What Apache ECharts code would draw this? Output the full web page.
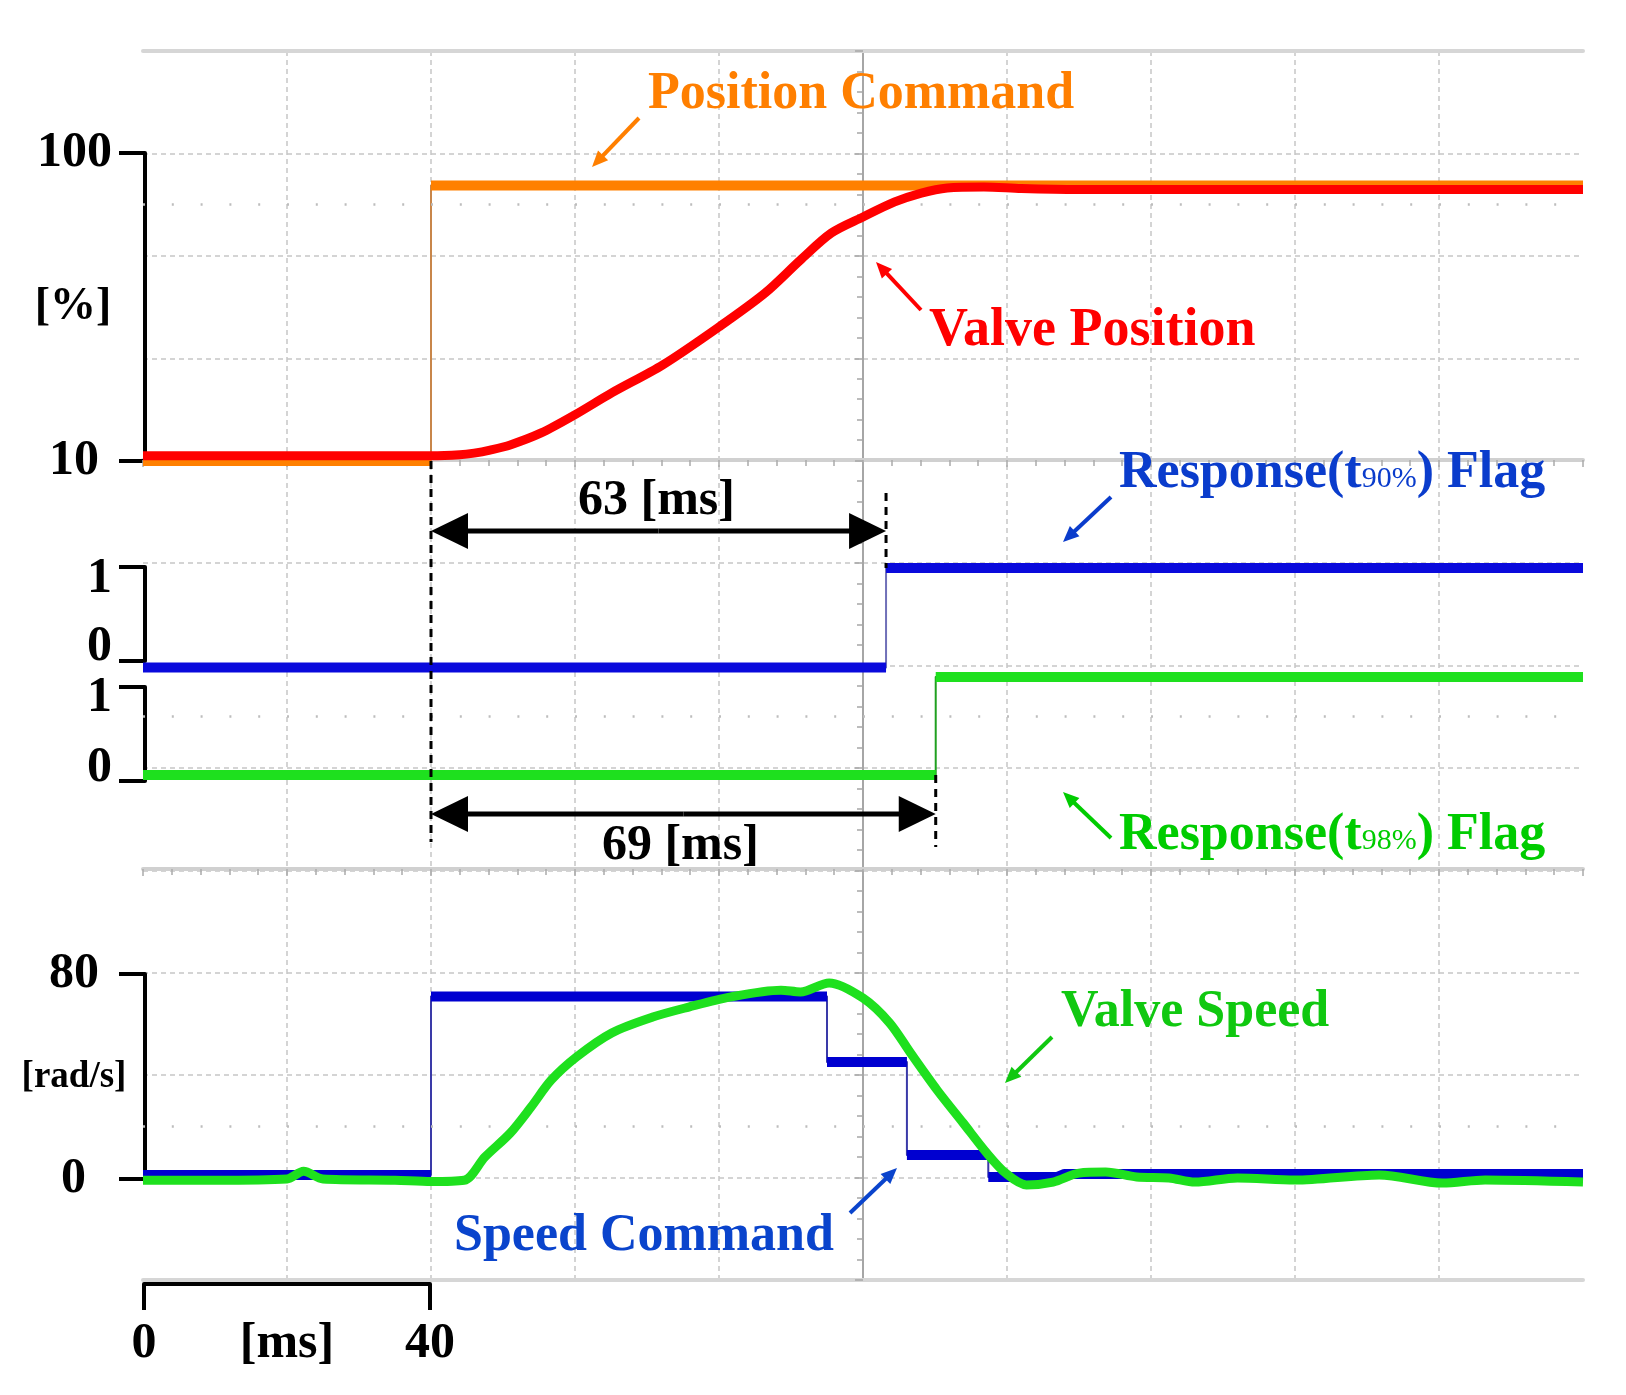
<!DOCTYPE html>
<html><head><meta charset="utf-8">
<script src="https://cdn.jsdelivr.net/npm/echarts@6/dist/echarts.min.js"></script>
<style>html,body{margin:0;padding:0;background:#fff}#main{width:1626px;height:1395px}</style>
</head><body><div id="main"></div>
<script>
// ---------------- data (time in ms) ----------------
const posCmdT = [0, 40, 40, 200];
const posCmdV = [10, 10, 90.5, 90.5];

const valvePosT = [0, 20, 40, 44, 46, 48.2, 51, 55.3, 59.9, 65.1, 72.2, 80, 86.4, 91.3, 95.6, 100, 104.4, 108.1, 111.7, 116.8, 122, 130, 160, 200];
const valvePosV = [11.5, 11.5, 11.5, 11.8, 12.3, 13.2, 14.7, 18.2, 23.4, 29.9, 38.1, 49.2, 59.1, 68.7, 76.6, 81.3, 85.7, 88.3, 89.8, 90.1, 89.6, 89.3, 89.3, 89.3];

const flag90T = [0, 103.2, 103.2, 200];
const flag90V = [-0.07, -0.07, 0.99, 0.99];

const flag98T = [0, 110.1, 110.1, 200];
const flag98V = [0.064, 0.064, 1.106, 1.106];

const spdCmdT = [0, 40, 40, 95, 95, 106.1, 106.1, 117.4, 117.4, 127, 128, 200];
const spdCmdV = [1.6, 1.6, 71.2, 71.2, 45.7, 45.7, 9.4, 9.4, 0.8, 0.8, 2.0, 2.0];

const valveSpdT = [0, 10, 20, 22.3, 25, 35, 40, 44.6, 47.5, 51, 53.9, 56.7, 60.2, 65.1, 70.8, 75.8, 81.5, 88.6, 91.3, 95.3, 100, 103.7, 106.6, 110.3, 113.9, 117.2, 119.8, 122.7, 126.4, 130, 133.7, 138, 142.5, 146.1, 152, 160, 171.7, 180.5, 186.4, 200];
const valveSpdV = [-0.5, -0.5, 0, 3, 0, -0.5, -1, -0.5, 8.6, 17.9, 28.1, 38.6, 47.6, 57, 63.2, 67.1, 71, 73.7, 73, 76.5, 70.6, 60.9, 49.2, 34.7, 21.9, 10.1, 2.3, -2.3, -1.2, 2.3, 2.7, 0.8, 0.4, -1.2, 0.4, -0.4, 1.6, -1.6, -0.4, -1.2];

const posTicks = [10, 100];
const flagTicks = [0, 1];
const spdTicks = [0, 80];
const scaleTicks = [0, 40];
const tMeasure = [40, 63, 69]; // start of step and annotated response times

// ---------------- helpers ----------------
const FONT = '"Liberation Serif","Times New Roman",serif';
const pairs = (T, V) => T.map((t, i) => [t, V[i]]);
function thick(T, V) {
  const out = [];
  for (let i = 0; i < T.length; i++) {
    if (i > 0 && T[i] === T[i - 1]) out.push([T[i], '-']);
    out.push([T[i], V[i]]);
  }
  return out;
}
function ser(name, xi, yi, data, color, width, z, clip, smooth) {
  return {
    name, type: 'line', xAxisIndex: xi, yAxisIndex: yi, data,
    showSymbol: false, symbol: 'none', silent: true, z,
    connectNulls: false, clip: clip !== false, smooth: smooth || false,
    lineStyle: { color, width, join: 'round' }, animation: false
  };
}
const hidX = g => ({ gridIndex: g, type: 'value', min: 0, max: 200, show: false, axisLine: { onZero: false } });
function yLab(g, min, max, ticks, fmt, rich, extra) {
  return Object.assign({
    gridIndex: g, type: 'value', min, max, offset: -2,
    axisLine: { show: true, onZero: false, lineStyle: { color: '#000', width: 4 } },
    axisTick: { show: true, length: 26, customValues: ticks, lineStyle: { color: '#000', width: 4 } },
    axisLabel: { show: true, customValues: ticks, margin: 33, color: '#000', fontFamily: FONT, fontSize: 50, fontWeight: 'bold', formatter: fmt, rich },
    splitLine: { show: false }
  }, extra || {});
}
const base = { fontFamily: FONT, fontSize: 50, fontWeight: 'bold', color: '#000' };
const R = (o) => Object.assign({}, base, o);
const tickLine = (offset) => ({
  gridIndex: 0, type: 'value', min: 0, max: 200, interval: 20, position: 'top', offset,
  axisLine: { show: true, onZero: false, lineStyle: { color: '#d0d0d0', width: 4 } },
  axisTick: { show: true, inside: true, length: 7, lineStyle: { color: '#aaa', width: 1.5 } },
  minorTick: { show: true, splitNumber: 5, length: 6, lineStyle: { color: '#aaa', width: 1.5 } },
  axisLabel: { show: false }, splitLine: { show: false }
});

const option = {
  animation: false,
  backgroundColor: '#fff',
  grid: [
    { left: 143, top: 51, width: 1440, height: 1229 },
    { left: 143, top: 153, width: 1440, height: 308 },
    { left: 143, top: 567, width: 1440, height: 94 },
    { left: 143, top: 687, width: 1440, height: 94 },
    { left: 143, top: 974, width: 1440, height: 205 },
    { left: 144, top: 1283, width: 286, height: 1 }
  ],
  xAxis: [
    { gridIndex: 0, type: 'value', min: 0, max: 200, interval: 20, position: 'top',
      axisLine: { show: true, onZero: false, lineStyle: { color: '#d6d6d6', width: 4 } },
      axisTick: { show: false }, axisLabel: { show: false },
      splitLine: { show: true, showMinLine: false, showMaxLine: false, lineStyle: { color: '#c6c6c6', width: 1.5, type: [5, 4] } } },
    { gridIndex: 0, type: 'value', min: 0, max: 200, interval: 20, position: 'bottom',
      axisLine: { show: true, onZero: false, lineStyle: { color: '#d6d6d6', width: 4 } },
      axisTick: { show: false }, axisLabel: { show: false }, splitLine: { show: false } },
    tickLine(-409),
    tickLine(-818),
    hidX(1), hidX(2), hidX(3), hidX(4),
    { gridIndex: 5, type: 'value', min: 0, max: 40, position: 'bottom',
      axisLine: { show: true, onZero: false, lineStyle: { color: '#000', width: 4 } },
      axisTick: { show: true, length: 26, customValues: scaleTicks, lineStyle: { color: '#000', width: 4 } },
      axisLabel: { show: true, customValues: scaleTicks, margin: 35, color: '#000', fontFamily: FONT, fontSize: 50, fontWeight: 'bold' },
      splitLine: { show: false } }
  ],
  yAxis: [
    { gridIndex: 0, type: 'value', min: 0, max: 12, interval: 1,
      axisLine: { show: false, onZero: false }, axisTick: { show: false }, axisLabel: { show: false },
      splitLine: { show: true, lineStyle: { color: '#c6c6c6', width: 1.5, type: [5, 4] } } },
    { gridIndex: 0, type: 'value', min: 0, max: 12, interval: 1, position: 'left', offset: -720,
      axisLine: { show: true, onZero: false, lineStyle: { color: '#a6a6a6', width: 2 } },
      axisTick: { show: true, length: 8, lineStyle: { color: '#a6a6a6', width: 1.5 } },
      minorTick: { show: true, splitNumber: 5, length: 6, lineStyle: { color: '#a6a6a6', width: 1.5 } },
      axisLabel: { show: false }, splitLine: { show: false } },
    yLab(1, 10, 100, posTicks, v => v === 100 ? '{a|100}' : '{b|10}',
      { a: R({}), b: R({ padding: [0, 13, 0, 0] }) }),
    yLab(2, 0, 1, flagTicks, v => v === 1 ? '{a|1}' : '{b|0}',
      { a: R({ padding: [24, 0, 0, 0] }), b: R({ padding: [0, 0, 28, 0] }) }, { interval: 1 }),
    yLab(3, 0, 1, flagTicks, v => v === 1 ? '{a|1}' : '{b|0}',
      { a: R({ padding: [22, 0, 0, 0] }), b: R({ padding: [0, 0, 26, 0] }) }, { interval: 1 }),
    yLab(4, 0, 80, spdTicks, v => v === 80 ? '{a|80}' : '{b|0}',
      { a: R({ padding: [0, 13, 0, 0] }), b: R({ padding: [0, 26, 0, 0] }) }, { interval: 80 }),
    { gridIndex: 5, type: 'value', min: 0, max: 1, show: false }
  ],
  series: [
    { type: 'line', xAxisIndex: 0, yAxisIndex: 0, data: [], silent: true, symbol: 'none',
      markLine: { symbol: ['none', 'none'], silent: true, label: { show: false }, animation: false,
        lineStyle: { color: '#bdbdbd', width: 2.5, type: [2, 26.8] },
        data: [{ yAxis: 10.5 }, { yAxis: 5.5 }, { yAxis: 1.5 }] } },
    ser('Position Command edge', 4, 2, pairs(posCmdT, posCmdV), '#c8864a', 2, 3),
    ser('Position Command', 4, 2, thick(posCmdT, posCmdV), '#FF8000', 10, 4),
    ser('Valve Position', 4, 2, pairs(valvePosT, valvePosV), '#FF0000', 9, 5, true, 0.3),
    ser('Response t90 edge', 5, 3, pairs(flag90T, flag90V), '#7070b8', 2, 3, false),
    ser('Response t90 Flag', 5, 3, thick(flag90T, flag90V), '#0a0adc', 10, 4, false),
    ser('Response t98 edge', 6, 4, pairs(flag98T, flag98V), '#20a020', 2, 3, false),
    ser('Response t98 Flag', 6, 4, thick(flag98T, flag98V), '#1ee01e', 10, 4, false),
    ser('Speed Command edge', 7, 5, pairs(spdCmdT, spdCmdV), '#3a3aa8', 2, 3, false),
    ser('Speed Command', 7, 5, thick(spdCmdT, spdCmdV), '#0000d0', 10, 4, false),
    ser('Valve Speed', 7, 5, pairs(valveSpdT, valveSpdV), '#1ee01e', 9, 5, false, 0.3)
  ]
};

const chart = echarts.init(document.getElementById('main'), null, { renderer: 'canvas' });
chart.setOption(option);

// ---------------- annotations ----------------
const px = t => chart.convertToPixel({ xAxisIndex: 0 }, t);
function arrowEls(x1, y1, x2, y2, color, w, hl, hw) {
  const dx = x2 - x1, dy = y2 - y1, L = Math.hypot(dx, dy), ux = dx / L, uy = dy / L;
  const bx = x2 - ux * hl, by = y2 - uy * hl, nx = -uy, ny = ux;
  return [
    { type: 'line', z: 100, silent: true, shape: { x1, y1, x2: bx + ux * 2, y2: by + uy * 2 }, style: { stroke: color, lineWidth: w } },
    { type: 'polygon', z: 100, silent: true, shape: { points: [[x2, y2], [bx + nx * hw, by + ny * hw], [bx - nx * hw, by - ny * hw]] }, style: { fill: color } }
  ];
}
function txt(text, x, y, fill, font, align) {
  return { type: 'text', z: 100, silent: true, x, y,
    style: { text, fill, font: font || ('bold 52px ' + FONT), align: align || 'left', verticalAlign: 'middle' } };
}
function richResp(sub, x, y, fill) {
  return { type: 'text', z: 100, silent: true, x, y,
    style: { text: '{m|Response(t}{s|' + sub + '}{m|) Flag}', fill, align: 'left', verticalAlign: 'middle',
      rich: {
        m: { fontFamily: FONT, fontSize: 52, fontWeight: 'bold', fill },
        s: { fontFamily: FONT, fontSize: 30, fontWeight: 'normal', fill, verticalAlign: 'bottom', padding: [0, 0, 6, 0] }
      } } };
}

const x40 = px(tMeasure[0]);
const x90 = px(flag90T[1]);
const x98 = px(flag98T[1]);
const dash = (x, y1, y2) => ({ type: 'line', z: 99, silent: true, shape: { x1: x, y1, x2: x, y2 }, style: { stroke: '#000', lineWidth: 3, lineDash: [8, 6] } });

const g = [];
g.push(dash(x40, 461, 842), dash(x90, 493, 568), dash(x98, 775, 847));
const mid1 = (x40 + x90) / 2, mid2 = (x40 + x98) / 2;
g.push(...arrowEls(mid1, 531, x40, 531, '#000', 5, 37, 18), ...arrowEls(mid1, 531, x90, 531, '#000', 5, 37, 18));
g.push(...arrowEls(mid2, 814, x40, 814, '#000', 5, 37, 18), ...arrowEls(mid2, 814, x98, 814, '#000', 5, 37, 18));
g.push(txt(tMeasure[1] + ' [ms]', mid1 - 2, 501, '#000', 'bold 50px ' + FONT, 'center'));
g.push(txt(tMeasure[2] + ' [ms]', mid2 - 3, 846, '#000', 'bold 50px ' + FONT, 'center'));

g.push(txt('Position Command', 648, 95, '#FF7F00'));
g.push(...arrowEls(639, 118, 592, 167, '#FF7F00', 4, 16, 7));
g.push(txt('Valve Position', 929, 331, '#FF0000', 'bold 54px ' + FONT));
g.push(...arrowEls(921, 310, 876, 262, '#FF0000', 4, 16, 7));
g.push(richResp('90%', 1119, 474, '#0a3ccc'));
g.push(...arrowEls(1111, 497, 1063, 542, '#0a3ccc', 4, 16, 7));
g.push(richResp('98%', 1119, 836, '#00cc00'));
g.push(...arrowEls(1111, 838, 1063, 792, '#00cc00', 4, 16, 7));
g.push(txt('Valve Speed', 1061, 1013, '#10c810'));
g.push(...arrowEls(1052, 1037, 1005, 1083, '#10c810', 4, 16, 7));
g.push(txt('Speed Command', 454, 1237, '#0a44cc'));
g.push(...arrowEls(850, 1213, 897, 1168, '#0a44cc', 4, 16, 7));
g.push(txt('[%]', 73, 307, '#000', 'bold 46px ' + FONT, 'center'));
g.push(txt('[rad/s]', 74, 1077, '#000', 'bold 37px ' + FONT, 'center'));
// scale-bar unit, centred between the scale bar's two ticks
const sb0 = chart.convertToPixel({ xAxisIndex: 8 }, scaleTicks[0]);
const sb1 = chart.convertToPixel({ xAxisIndex: 8 }, scaleTicks[1]);
g.push(txt('[ms]', (sb0 + sb1) / 2, 1344, '#000', 'bold 50px ' + FONT, 'center'));

chart.setOption({ graphic: g });
</script>
</body></html>
